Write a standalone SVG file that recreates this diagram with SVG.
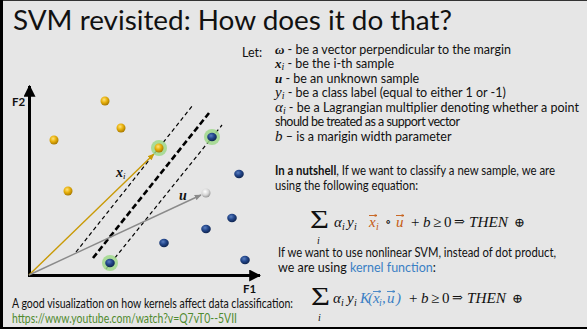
<svg xmlns="http://www.w3.org/2000/svg" width="587" height="329" viewBox="0 0 587 329">
<defs>
<radialGradient id="gGold" cx="40%" cy="35%" r="65%"><stop offset="0" stop-color="#ffe27a"/><stop offset="0.5" stop-color="#e8b10c"/><stop offset="1" stop-color="#a97a00"/></radialGradient>
<radialGradient id="gBlue" cx="40%" cy="35%" r="65%"><stop offset="0" stop-color="#5a7fc0"/><stop offset="0.5" stop-color="#23468a"/><stop offset="1" stop-color="#0f2550"/></radialGradient>
<radialGradient id="gWhite" cx="40%" cy="35%" r="65%"><stop offset="0" stop-color="#ffffff"/><stop offset="0.6" stop-color="#d6d6d6"/><stop offset="1" stop-color="#9a9a9a"/></radialGradient>
<marker id="mAx" viewBox="0 0 10 10" refX="9" refY="5" markerWidth="4" markerHeight="4" orient="auto"><path d="M0,0 L10,5 L0,10 z" fill="#000"/></marker>
<marker id="mGold" viewBox="0 0 10 10" refX="9" refY="5" markerWidth="5" markerHeight="5" orient="auto"><path d="M0,1 L10,5 L0,9 z" fill="#c99a06"/></marker>
<marker id="mGray" viewBox="0 0 10 10" refX="9" refY="5" markerWidth="5" markerHeight="5" orient="auto"><path d="M0,1 L10,5 L0,9 z" fill="#8a8a8a"/></marker>
<marker id="mVO" viewBox="0 0 10 10" refX="9" refY="5" markerWidth="3" markerHeight="3" markerUnits="userSpaceOnUse" orient="auto"><path d="M0,0 L10,5 L0,10" fill="none" stroke="#c55a11" stroke-width="2"/></marker>
<marker id="mVB" viewBox="0 0 10 10" refX="9" refY="5" markerWidth="3" markerHeight="3" markerUnits="userSpaceOnUse" orient="auto"><path d="M0,0 L10,5 L0,10" fill="none" stroke="#3b7fc4" stroke-width="2"/></marker>
</defs>
<style>
.t{font-family:Lato,"Open Sans","Liberation Sans",sans-serif;fill:#111;font-size:12.5px}
.m{font-family:"Liberation Serif","DejaVu Serif",serif;font-style:italic;fill:#111;font-size:15px}
.n{font-family:"Liberation Serif","DejaVu Serif",serif;fill:#111;font-size:15px}
.op{font-family:"DejaVu Serif",serif;fill:#111;font-size:13px}
.sig{font-family:"Liberation Serif","DejaVu Serif",serif;fill:#111;font-size:25px}
.s{font-family:"Liberation Serif","DejaVu Serif",serif;font-style:italic;fill:#111;font-size:10px}
.mb{font-family:"Liberation Serif","DejaVu Serif",serif;font-style:italic;font-weight:bold;fill:#111}
.ax{stroke:#000;stroke-width:3;fill:none}
.dash{stroke:#000;stroke-width:1.2;stroke-dasharray:4,3;fill:none}
.dashb{stroke:#000;stroke-width:2.6;stroke-dasharray:6,3;fill:none}
.halo{fill:#9fd88a;opacity:0.85}
.gold{fill:url(#gGold)}
.blue{fill:url(#gBlue)}
.wht{fill:url(#gWhite)}
.or{fill:#c55a11}
.bl{fill:#3b7fc4}
.vo{stroke:#c55a11;stroke-width:0.9;marker-end:url(#mVO)}
.vb{stroke:#3b7fc4;stroke-width:0.9;marker-end:url(#mVB)}
</style>
<rect x="0" y="0" width="587" height="329" fill="#e6e6e6"/>
<rect x="0" y="0" width="587" height="1" fill="#333"/>
<rect x="0" y="0" width="3" height="329" fill="#000"/>
<rect x="0" y="327" width="587" height="2" fill="#000"/>

<g id="title"><text x="13" y="30" font-family="Lato,'Open Sans',sans-serif" font-size="26" fill="#111" textLength="439" lengthAdjust="spacingAndGlyphs">SVM revisited: How does it do that?</text></g>

<g id="plot">
<g id="connectors">
<line class="ax" x1="29.5" y1="276" x2="29.5" y2="86" marker-end="url(#mAx)"/>
<line class="ax" x1="28" y1="275.5" x2="260" y2="275.5" marker-end="url(#mAx)"/>
<line class="dash" x1="76" y1="252" x2="193" y2="105"/>
<line class="dashb" x1="93" y1="258" x2="209" y2="113"/>
<line class="dash" x1="106" y1="269" x2="222" y2="125"/>
<line x1="29" y1="275" x2="154" y2="154" stroke="#c99a06" stroke-width="1.4" marker-end="url(#mGold)"/>
<line x1="29" y1="275" x2="201" y2="195" stroke="#8a8a8a" stroke-width="1.4" marker-end="url(#mGray)"/>
</g>
<g id="support-halos">
<circle class="halo" cx="159" cy="148" r="8"/>
<circle class="halo" cx="212" cy="137" r="8"/>
<circle class="halo" cx="110" cy="263" r="8"/>
</g>
<g id="class-gold">
<circle class="gold" cx="105" cy="101" r="4.5"/>
<circle class="gold" cx="121" cy="128" r="4.5"/>
<circle class="gold" cx="54" cy="140" r="4.5"/>
<circle class="gold" cx="68" cy="191" r="4.5"/>
<circle class="gold" cx="159" cy="148" r="4.5"/>
</g>
<g id="class-blue">
<ellipse class="blue" cx="212" cy="137" rx="4.8" ry="4.2"/>
<ellipse class="blue" cx="239" cy="174" rx="4.8" ry="4.2"/>
<ellipse class="blue" cx="232" cy="218" rx="4.8" ry="4.2"/>
<ellipse class="blue" cx="206" cy="229" rx="4.8" ry="4.2"/>
<ellipse class="blue" cx="164" cy="243" rx="4.8" ry="4.2"/>
<ellipse class="blue" cx="245" cy="260" rx="4.8" ry="4.2"/>
<ellipse class="blue" cx="110" cy="263" rx="4.8" ry="4.2"/>
</g>
<g id="unknown"><circle class="wht" cx="206" cy="193" r="4.5"/></g>
<text x="12" y="106" font-family="Lato,sans-serif" font-weight="bold" font-size="11.5" fill="#111">F2</text>
<text x="243" y="293" font-family="Lato,sans-serif" font-weight="bold" font-size="11.5" fill="#111">F1</text>
<text class="mb" x="116" y="177" font-size="14">x<tspan font-size="9" dy="2" font-weight="normal">i</tspan></text>
<text class="mb" x="179" y="200" font-size="14">u</text>
</g>

<g id="definitions">
<text class="t" x="242" y="57">Let:</text>
<text class="t" x="275" y="53.5"><tspan class="mb" font-size="13">ω</tspan> - be a vector perpendicular to the margin</text>
<text class="t" x="275" y="68"><tspan class="mb" font-size="13">x</tspan><tspan class="s" font-size="9" dy="2">i</tspan><tspan dy="-2"> - be the i-th sample</tspan></text>
<text class="t" x="275" y="82.5"><tspan class="mb" font-size="13">u</tspan> - be an unknown sample</text>
<text class="t" x="275" y="97"><tspan class="m" font-size="13">y</tspan><tspan class="s" font-size="9" dy="2">i</tspan><tspan dy="-2"> - be a class label (equal to either 1 or -1)</tspan></text>
<text class="t" x="275" y="111.5"><tspan class="m" font-size="13">α</tspan><tspan class="s" font-size="9" dy="2">i</tspan><tspan dy="-2"> - be a Lagrangian multiplier denoting whether a point</tspan></text>
<text class="t" x="275" y="126" textLength="185">should be treated as a support vector</text>
<text class="t" x="275" y="140.5"><tspan class="m" font-size="13">b</tspan> – is a marigin width parameter</text>
</g>

<g id="nutshell">
<text class="t" x="275" y="175" textLength="280" lengthAdjust="spacingAndGlyphs"><tspan font-weight="bold">In a nutshell</tspan>, If we want to classify a new sample, we are</text>
<text class="t" x="275" y="190" textLength="143" lengthAdjust="spacingAndGlyphs">using the following equation:</text>
<text class="sig" x="310" y="228" textLength="19" lengthAdjust="spacingAndGlyphs">Σ</text>
<text class="s" x="317" y="244">i</text>
<text class="m" x="334" y="227">α<tspan class="s" x="342" y="230">i</tspan><tspan x="347" y="227">y</tspan><tspan class="s" x="354" y="230">i</tspan></text>
<text class="m or" x="369" y="227">x<tspan class="s or" x="376" y="230">i</tspan></text>
<line class="vo" x1="369" y1="215.5" x2="377" y2="215.5"/>
<text class="op" x="385" y="226">∘</text>
<text class="m or" x="396" y="227">u</text>
<line class="vo" x1="396" y1="215.5" x2="404" y2="215.5"/>
<text class="n" x="411" y="227">+</text>
<text class="m" x="423" y="227">b</text>
<text class="n" x="433" y="227">≥</text>
<text class="n" x="444" y="227">0</text>
<text class="op" x="454" y="226">⇒</text>
<text class="m" x="469" y="227" textLength="39" lengthAdjust="spacingAndGlyphs">THEN</text>
<text class="op" x="514" y="227">⊕</text>
</g>

<g id="nonlinear">
<text class="t" x="278" y="257" textLength="278" lengthAdjust="spacingAndGlyphs">If we want to use nonlinear SVM, instead of dot product,</text>
<text class="t" x="278" y="272">we are using <tspan fill="#3b7fc4">kernel function</tspan>:</text>
<text class="sig" x="311" y="305" textLength="19" lengthAdjust="spacingAndGlyphs">Σ</text>
<text class="s" x="318" y="321">i</text>
<text class="m" x="333" y="303">α<tspan class="s" x="341" y="306">i</tspan><tspan x="347" y="303">y</tspan><tspan class="s" x="354" y="306">i</tspan></text>
<text class="m bl" x="360" y="303">K<tspan class="n bl" x="368">(</tspan><tspan x="373">x</tspan><tspan class="s bl" x="379" y="306">i</tspan><tspan class="n bl" x="382" y="303">,</tspan><tspan x="387">u</tspan><tspan class="n bl" x="396">)</tspan></text>
<line class="vb" x1="373" y1="291.5" x2="381" y2="291.5"/>
<line class="vb" x1="387" y1="291.5" x2="395" y2="291.5"/>
<text class="n" x="409" y="303">+</text>
<text class="m" x="421" y="303">b</text>
<text class="n" x="431" y="303">≥</text>
<text class="n" x="442" y="303">0</text>
<text class="op" x="452" y="302">⇒</text>
<text class="m" x="467" y="303" textLength="39" lengthAdjust="spacingAndGlyphs">THEN</text>
<text class="op" x="512" y="303">⊕</text>
</g>

<g id="footer">
<text class="t" x="12" y="308" font-size="11" textLength="281" lengthAdjust="spacingAndGlyphs">A good visualization on how kernels affect data classification:</text>
<text class="t" x="12" y="323" font-size="11" style="fill:#4f8a2e" textLength="225" lengthAdjust="spacingAndGlyphs">https://www.youtube.com/watch?v=Q7vT0--5VII</text>
</g>
</svg>
